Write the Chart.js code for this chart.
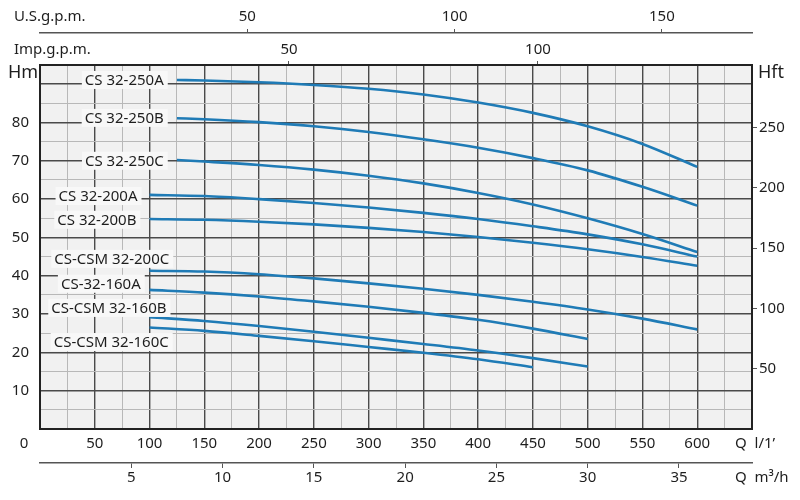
<!DOCTYPE html>
<html>
<head>
<meta charset="utf-8">
<script src="https://cdn.jsdelivr.net/npm/chart.js@4.4.1/dist/chart.umd.min.js"></script>
<style>
html, body { margin: 0; padding: 0; background: #fff; }
#wrap { width: 800px; height: 500px; }
</style>
</head>
<body>
<div id="wrap"><canvas id="pumpChart" width="800" height="500"></canvas></div>
<script>
// --- data: flow Q in l/min, head H in m ---
const models = ["CS 32-250A", "CS 32-250B", "CS 32-250C", "CS 32-200A", "CS 32-200B",
                "CS-CSM 32-200C", "CS-32-160A", "CS-CSM 32-160B", "CS-CSM 32-160C"];

const q250 = [125, 150, 200, 250, 300, 350, 400, 450, 500, 550, 600];
const q200 = [100, 150, 200, 250, 300, 350, 400, 450, 500, 550, 600];
const q160 = [100, 150, 200, 250, 300, 350, 400, 450, 500];
const q160C = [100, 150, 200, 250, 300, 350, 400, 450];

const h250A = [91.1, 90.95, 90.5, 89.8, 88.8, 87.3, 85.2, 82.5, 79.0, 74.4, 68.4];
const h250B = [81.1, 80.85, 80.1, 79.0, 77.5, 75.6, 73.4, 70.7, 67.5, 63.2, 58.3];
const h250C = [70.2, 69.8, 68.9, 67.7, 66.1, 64.1, 61.6, 58.6, 55.0, 50.9, 46.2];
const h200A = [61.1, 60.8, 60.0, 59.0, 57.8, 56.4, 54.8, 52.9, 50.8, 48.2, 45.0];
const h200B = [54.8, 54.6, 54.1, 53.4, 52.5, 51.4, 50.1, 48.6, 46.9, 44.9, 42.6];
const h200C = [41.3, 41.1, 40.4, 39.3, 38.0, 36.6, 35.0, 33.2, 31.2, 28.8, 26.0];
const h160A = [36.3, 35.6, 34.6, 33.3, 31.9, 30.3, 28.5, 26.2, 23.5];
const h160B = [29.2, 28.2, 26.9, 25.4, 23.8, 22.2, 20.5, 18.5, 16.3];
const h160C = [26.5, 25.6, 24.3, 22.9, 21.4, 19.9, 18.2, 16.1];

const flows = [q250, q250, q250, q200, q200, q200, q160, q160, q160C];
const heads = [h250A, h250B, h250C, h200A, h200B, h200C, h160A, h160B, h160C];

// where each model name sits (right end of text, in Q / H units)
const labelQ = [113, 113, 113, 89, 88, 118, 92, 115.5, 117.5];
const labelH = [91.1, 81.2, 70.0, 60.8, 54.6, 44.4, 37.9, 31.6, 22.7];

// axis ranges and tick labels
const qMax = 650;
const hMax = 95;
const hftMax = 302;
const hftTicks = [50, 100, 150, 200, 250];
const m3Ticks = [5, 10, 15, 20, 25, 30, 35];
const usTicks = [50, 100, 150];
const impTicks = [50, 100];

const FONT = "'Noto Sans', 'Open Sans', sans-serif";
const TXT = "#1e1e1e";
const BLUE = "#1f7bb6";

const datasets = models.map((name, i) => ({
    label: name,
    data: flows[i].map((q, k) => ({ x: q, y: heads[i][k] })),
    borderColor: BLUE,
    borderWidth: 2.6,
    pointRadius: 0,
    tension: 0.4,
    cubicInterpolationMode: "monotone",
    fill: false
}));

// plot background + model labels + loose texts
const decor = {
    id: "decor",
    beforeDraw(chart) {
        const { ctx, chartArea: a } = chart;
        ctx.save();
        ctx.fillStyle = "#f1f1f1";
        ctx.fillRect(a.left, a.top, a.right - a.left, a.bottom - a.top);
        ctx.restore();
    },
    afterDatasetsDraw(chart) {
        const { ctx, scales } = chart;
        const x = scales.x, y = scales.y;
        ctx.save();
        ctx.font = "15px " + FONT;
        ctx.textBaseline = "middle";
        ctx.textAlign = "right";
        models.forEach((name, i) => {
            const px = x.getPixelForValue(labelQ[i]);
            const py = y.getPixelForValue(labelH[i]);
            const w = ctx.measureText(name).width;
            ctx.fillStyle = "#f8f8f8";
            ctx.fillRect(px - w - 3, py - 9, w + 7, 18);
            ctx.fillStyle = TXT;
            ctx.fillText(name, px, py + 1);
        });

        const a = chart.chartArea;
        ctx.textAlign = "left";
        ctx.font = "15px " + FONT;
        ctx.fillText("U.S.g.p.m.", 14, 17);
        ctx.fillText("Imp.g.p.m.", 14, 50);
        ctx.fillText("Q  l/1\u2019", 735, 444);
        ctx.fillText("Q  m\u00b3/h", 735, 478);
        ctx.textAlign = "center";
        ctx.fillText("0", a.left - 16, 444);
        ctx.textAlign = "left";
        ctx.font = "18px " + FONT;
        ctx.fillText("Hm", 8, 73);
        ctx.fillText("Hft", 758, 73);
        ctx.restore();
    }
};

const hideEnds = (v, max) => (v > 0 && v < max ? v : "");
const fixTicks = list => s => { s.ticks = list.map(v => ({ value: v })); };

new Chart(document.getElementById("pumpChart"), {
    type: "line",
    data: { datasets },
    plugins: [decor],
    options: {
        responsive: false,
        animation: false,
        layout: { padding: 0 },
        plugins: { legend: { display: false }, tooltip: { enabled: false } },
        scales: {
            x: {
                type: "linear", position: "bottom", weight: 0,
                min: 0, max: qMax,
                afterFit: s => { s.height = 34; },
                border: { color: "#222", width: 2 },
                grid: {
                    drawTicks: false,
                    color: c => (c.tick.value % 50 === 0 ? "#4a4a4a" : "#b8b8b8"),
                    lineWidth: c => (c.tick.value % 50 === 0 ? 1.4 : 1)
                },
                ticks: {
                    stepSize: 25, autoSkip: false, maxRotation: 0, padding: 6,
                    color: TXT, font: { family: FONT, size: 15 },
                    callback: v => (v % 50 === 0 ? hideEnds(v, qMax) : "")
                }
            },
            xm3: {
                type: "linear", position: "bottom", weight: 1,
                min: 0, max: qMax * 0.06,
                afterBuildTicks: fixTicks(m3Ticks),
                afterFit: s => { s.height = 37; },
                border: { color: "#555", width: 1.5 },
                grid: { drawOnChartArea: false, tickLength: 5, color: "#555" },
                ticks: {
                    autoSkip: false, maxRotation: 0, padding: 1,
                    color: TXT, font: { family: FONT, size: 15 }
                }
            },
            ximp: {
                type: "linear", position: "top", weight: 0,
                min: 0, max: qMax / 4.546,
                afterBuildTicks: fixTicks(impTicks),
                afterFit: s => { s.height = 32; },
                border: { color: "#222", width: 2 },
                grid: { drawOnChartArea: false, tickLength: 4, color: "#555" },
                ticks: {
                    autoSkip: false, maxRotation: 0, padding: 2,
                    color: TXT, font: { family: FONT, size: 15 }
                }
            },
            xus: {
                type: "linear", position: "top", weight: 1,
                min: 0, max: qMax / 3.785,
                afterBuildTicks: fixTicks(usTicks),
                afterFit: s => { s.height = 33; },
                border: { color: "#555", width: 1.5 },
                grid: { drawOnChartArea: false, tickLength: 4, color: "#555" },
                ticks: {
                    autoSkip: false, maxRotation: 0, padding: 3,
                    color: TXT, font: { family: FONT, size: 15 }
                }
            },
            y: {
                type: "linear", position: "left",
                min: 0, max: hMax,
                afterFit: s => { s.width = 40; },
                border: { color: "#222", width: 2 },
                grid: {
                    drawTicks: false,
                    color: c => (c.tick.value % 10 === 0 ? "#4a4a4a" : "#b8b8b8"),
                    lineWidth: c => (c.tick.value % 10 === 0 ? 1.4 : 1)
                },
                ticks: {
                    stepSize: 5, autoSkip: false, padding: 11,
                    color: TXT, font: { family: FONT, size: 15 },
                    callback: v => (v % 10 === 0 ? hideEnds(v, 90) : "")
                }
            },
            hft: {
                type: "linear", position: "right",
                min: 0, max: hftMax,
                afterBuildTicks: fixTicks(hftTicks),
                afterFit: s => { s.width = 48; },
                border: { color: "#222", width: 2 },
                grid: { drawOnChartArea: false, tickLength: 5, color: "#555" },
                ticks: {
                    autoSkip: false, padding: 2,
                    color: TXT, font: { family: FONT, size: 15 }
                }
            }
        }
    }
});
</script>
</body>
</html>
